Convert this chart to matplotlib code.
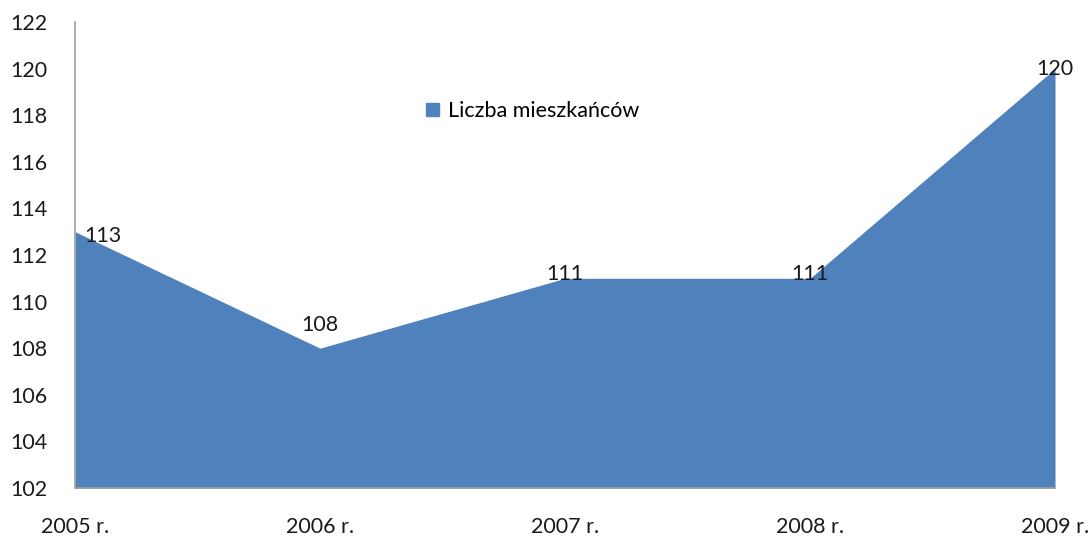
import matplotlib.pyplot as plt
from matplotlib.patches import Patch

plt.rcParams['font.family'] = ['Lato', 'DejaVu Sans']

years = ['2005 r.', '2006 r.', '2007 r.', '2008 r.', '2009 r.']
residents = [113, 108, 111, 111, 120]
yticks = list(range(102, 123, 2))

blue = '#4F81BD'

fig = plt.figure(figsize=(10.91, 5.37), dpi=100)
ax = fig.add_axes([75 / 1091, 1 - 488 / 537, 980 / 1091, 466 / 537])

x = list(range(len(years)))
ax.fill_between(x, 102, residents, color=blue, linewidth=0)

ax.set_xlim(0, len(years) - 1)
ax.set_ylim(102, 122)
ax.set_yticks(yticks)
ax.set_xticks(x)
ax.set_xticklabels(years)
ax.tick_params(axis='both', length=0, labelsize=15.5, colors='#1a1a1a')
ax.tick_params(axis='y', pad=20)
ax.tick_params(axis='x', pad=21)

for s in ['top', 'right']:
    ax.spines[s].set_visible(False)
for s in ['left', 'bottom']:
    ax.spines[s].set_color('#a0a0a0')
    ax.spines[s].set_linewidth(1.2)

# data labels: (dx, dy) in points, label centred there
offsets = [(20, -3), (0, 17), (0, 3), (0, 3), (0, 0)]
for xi, v, (dx, dy) in zip(x, residents, offsets):
    ax.annotate(str(v), (xi, v), xytext=(dx, dy), textcoords='offset points',
                ha='center', va='center', fontsize=15.5,
                color='#1a1a1a', clip_on=False)

ax.legend(handles=[Patch(color=blue, label='Liczba mieszkańców')],
          loc='center', bbox_to_anchor=(0.467, 0.809), frameon=False,
          fontsize=15.5, handlelength=0.6, handleheight=0.6, handletextpad=0.4)

fig.savefig('out.png', dpi=100)
